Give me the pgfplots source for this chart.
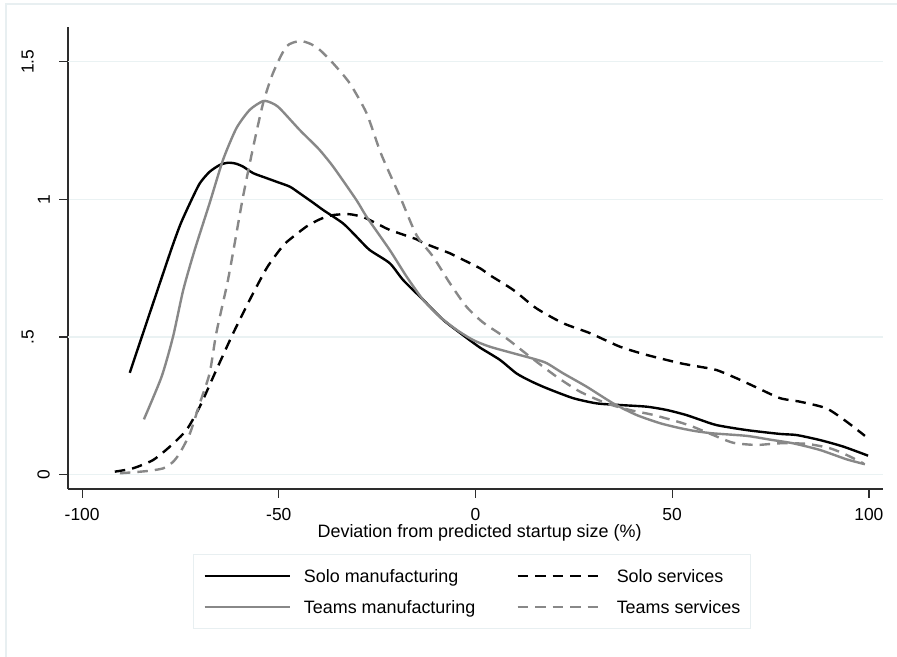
\documentclass[border=0pt]{standalone}
\usepackage{fontspec}
\setmainfont{Liberation Sans}
\usepackage{pgfplots}
\pgfplotsset{compat=1.18}
\definecolor{gridc}{RGB}{234,242,243}
\definecolor{framec}{RGB}{232,239,241}
\definecolor{grayc}{RGB}{136,136,136}
\definecolor{axc}{RGB}{45,45,45}
\begin{document}
\begin{tikzpicture}[x=1bp,y=1bp]
\useasboundingbox (0,0) rectangle (897,657);
\draw[framec, line width=1.5bp] (6,-5) -- (6,653) -- (905,653);
\begin{axis}[
  at={(68bp,168bp)}, anchor=south west,
  scale only axis, width=815bp, height=462bp,
  xmin=-103.6, xmax=103.6, ymin=-0.052, ymax=1.626,
  axis lines*=left,
  axis line style={axc, line width=1.3bp},
  tick style={axc, line width=1.3bp},
  major tick length=9bp, tick align=outside,
  xtick={-100,-50,0,50,100},
  xticklabels={-100,-50,0,50,100},
  ytick={0,1},
  yticklabels={0,1},
  extra y ticks={0.5,1.5},
  extra y tick labels={.5,1.5},
  extra y tick style={grid=major, yticklabel style={yshift=16bp}},
  ymajorgrids, xmajorgrids=false,
  grid style={gridc, line width=1.5bp},
  xticklabel style={font=\fontsize{17.5}{20}\selectfont, inner sep=0pt, anchor=base, yshift=-23bp},
  yticklabel style={font=\fontsize{17.5}{20}\selectfont, xshift=-9bp, rotate=90, anchor=south, inner sep=0pt},
  xlabel={Deviation from predicted startup size (\%)},
  xlabel style={font=\fontsize{18}{21}\selectfont, at={(axis description cs:0.505,-0.1054)}, anchor=base, inner sep=0pt},
  legend columns=2,
  legend image code/.code={\draw[#1] (0bp,0bp) -- (85bp,0bp);},
  legend style={at={(0.1534,-0.1407)}, anchor=north west, draw=framec, line width=1bp, fill=white,
    inner xsep=10bp, inner ysep=15bp,
    nodes={inner sep=0pt, text depth=0pt, font=\fontsize{18}{21}\selectfont},
    cells={anchor=west}, row sep=18bp,
    /tikz/every odd column/.style={column sep=13bp},
    /tikz/every even column/.style={column sep=41bp}},
  every axis plot/.append style={line width=2.4bp, smooth, tension=0.4},
]
\addplot[black, solid] coordinates {
(-87.9,0.370) (-82.5,0.600) (-77.4,0.816) (-75.0,0.910) (-72.6,0.986) (-70.1,1.058) (-67.6,1.100)
(-65.0,1.125) (-62.9,1.133) (-61.0,1.130) (-59.1,1.119) (-56.5,1.095) (-53.1,1.077) (-50.6,1.064)
(-47.2,1.046) (-44.7,1.022) (-41.5,0.990) (-38.7,0.961) (-33.7,0.913) (-30.3,0.865) (-26.9,0.816)
(-21.8,0.768) (-18.4,0.707) (-13.3,0.635) (-8.2,0.562) (-3.2,0.507) (1.1,0.462) (6.2,0.417)
(10.4,0.368) (14.0,0.340) (18.1,0.314) (24.8,0.278) (30.8,0.259) (36.7,0.253) (43.5,0.247)
(48.6,0.235) (53.5,0.217) (57.0,0.200) (61.3,0.180) (68.9,0.162) (77.4,0.148) (81.6,0.144)
(87.5,0.126) (93.5,0.102) (99.8,0.069)};
\addlegendentry{Solo manufacturing}
\addplot[black, dash pattern=on 10.5bp off 7bp] coordinates {
(-91.7,0.011) (-87.1,0.023) (-82.0,0.053) (-77.7,0.102) (-73.5,0.162) (-70.1,0.247) (-65.9,0.380)
(-61.6,0.514) (-57.4,0.635) (-53.1,0.750) (-49.8,0.816) (-48.0,0.845) (-43.0,0.901) (-39.5,0.928)
(-36.2,0.943) (-32.0,0.946) (-28.5,0.935) (-25.2,0.913) (-21.8,0.889) (-15.0,0.855) (-13.3,0.842)
(-6.5,0.804) (-4.8,0.792) (1.1,0.750) (3.6,0.725) (9.6,0.671) (15.5,0.604) (22.3,0.550)
(29.1,0.514) (36.7,0.465) (43.5,0.435) (52.0,0.405) (57.0,0.392) (61.3,0.380) (66.4,0.350)
(71.4,0.317) (77.4,0.278) (82.5,0.265) (89.2,0.241) (94.3,0.193) (99.0,0.141)};
\addlegendentry{Solo services}
\addplot[grayc, solid] coordinates {
(-84.3,0.201) (-79.8,0.356) (-76.9,0.501) (-74.3,0.671) (-71.4,0.816) (-67.6,0.986) (-64.2,1.143)
(-60.8,1.258) (-57.4,1.325) (-54.0,1.357) (-51.8,1.350) (-49.8,1.331) (-44.7,1.252) (-41.3,1.204)
(-39.6,1.179) (-36.2,1.119) (-30.3,0.998) (-27.7,0.937) (-21.8,0.816) (-17.5,0.719) (-13.3,0.635)
(-9.1,0.574) (-4.8,0.526) (-0.6,0.489) (3.6,0.465) (9.6,0.441) (15.0,0.420) (18.1,0.405)
(22.3,0.368) (28.2,0.320) (35.0,0.259) (40.9,0.217) (46.9,0.187) (52.0,0.169) (56.0,0.158)
(60.4,0.150) (68.9,0.141) (75.0,0.127) (80.7,0.114) (87.5,0.090) (94.3,0.056) (99.0,0.038)};
\addlegendentry{Teams manufacturing}
\addplot[grayc, dash pattern=on 10.5bp off 7bp] coordinates {
(-90.4,0.005) (-83.6,0.013) (-79.4,0.023) (-77.0,0.045) (-75.2,0.078) (-72.6,0.150) (-70.1,0.259)
(-67.6,0.368) (-65.9,0.514) (-63.1,0.695) (-61.6,0.810) (-59.1,1.010) (-56.5,1.191) (-54.0,1.349)
(-51.5,1.458) (-48.1,1.555) (-44.7,1.575) (-42.0,1.565) (-39.6,1.543) (-36.2,1.494) (-32.0,1.422)
(-27.7,1.313) (-24.0,1.165) (-19.2,1.010) (-15.0,0.870) (-10.8,0.792) (-6.5,0.695) (-2.3,0.610)
(1.9,0.553) (7.9,0.495) (13.8,0.429) (20.6,0.356) (26.5,0.302) (33.3,0.259) (39.2,0.235)
(45.2,0.217) (52.0,0.190) (55.3,0.174) (60.4,0.144) (65.5,0.116) (71.4,0.108) (77.4,0.114)
(84.2,0.112) (90.1,0.096) (94.3,0.072) (98.6,0.041)};
\addlegendentry{Teams services}
\end{axis}
\end{tikzpicture}
\end{document}
